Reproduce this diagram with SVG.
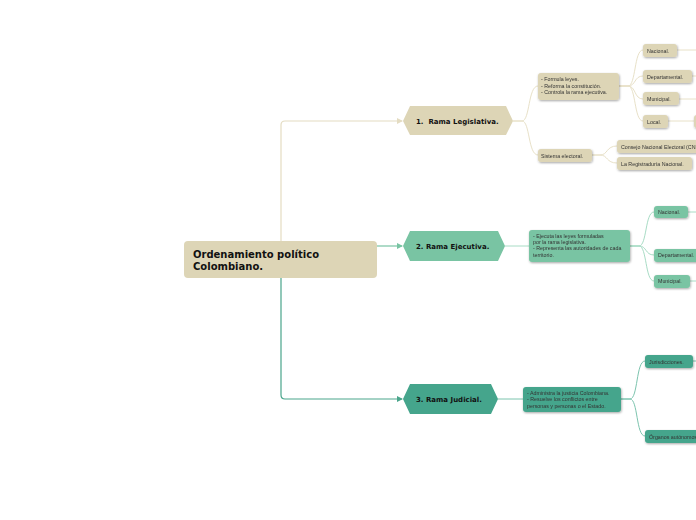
<svg xmlns="http://www.w3.org/2000/svg" width="696" height="520" viewBox="0 0 696 520">
<style>
.t{font-family:"Liberation Sans",Arial,sans-serif;font-size:5.3px;fill:#333}
.b{font-family:"DejaVu Sans",Verdana,sans-serif;font-weight:bold;fill:#111}
.leg{fill:#ddd5b6}
.eje{fill:#79c4a3}
.jud{fill:#45a58c}
.cl{fill:none;stroke:#e8e1c8;stroke-width:1}
.ce{fill:none;stroke:#a8dcc5;stroke-width:1}
.cj{fill:none;stroke:#7cc4ae;stroke-width:1}
</style>
<defs>
<filter id="sh" x="-20%" y="-30%" width="140%" height="180%">
<feDropShadow dx="0.6" dy="1" stdDeviation="0.8" flood-color="#000" flood-opacity="0.35"/>
</filter>
<marker id="aL" viewBox="0 0 6 6" refX="5" refY="3" markerWidth="5" markerHeight="5" orient="auto"><path d="M0,0 L6,3 L0,6 z" fill="#e4dcc2"/></marker>
<marker id="aE" viewBox="0 0 6 6" refX="5" refY="3" markerWidth="5" markerHeight="5" orient="auto"><path d="M0,0 L6,3 L0,6 z" fill="#79c4a3"/></marker>
<marker id="aJ" viewBox="0 0 6 6" refX="5" refY="3" markerWidth="5" markerHeight="5" orient="auto"><path d="M0,0 L6,3 L0,6 z" fill="#4aa58b"/></marker>
</defs>
<rect width="696" height="520" fill="#fff"/>
<g id="connectors">
<path d="M281,241 V125 Q281,121 285,121 H402" fill="none" stroke="#e4dcc2" stroke-width="1.2" marker-end="url(#aL)"/>
<path d="M377,246 H402" fill="none" stroke="#79c4a3" stroke-width="1.2" marker-end="url(#aE)"/>
<path d="M281,278 V395 Q281,399 285,399 H402" fill="none" stroke="#4aa58b" stroke-width="1.2" marker-end="url(#aJ)"/>
<path class="cl" d="M513,121 H522 C530,121 528,86 538,86"/>
<path class="cl" d="M513,121 H522 C530,121 528,155 538,155"/>
<path class="cl" d="M619,86 H628 C636,86 634,50 643,50"/>
<path class="cl" d="M619,86 H628 C636,86 634,76 643,76"/>
<path class="cl" d="M619,86 H628 C636,86 634,99 643,99"/>
<path class="cl" d="M619,86 H628 C636,86 634,121 643,121"/>
<path class="cl" d="M677,50 H696 M692,76 H696 M679,99 H696 M668,121 H694"/>
<path class="cl" d="M592,155 H600 C608,155 606,146 617,146"/>
<path class="cl" d="M592,155 H600 C608,155 606,163 617,163"/>
<path class="ce" d="M505,246 H529"/>
<path class="ce" d="M630,246 H639 C647,246 645,212 654,212"/>
<path class="ce" d="M630,246 H639 C647,246 645,255 654,255"/>
<path class="ce" d="M630,246 H639 C647,246 645,281 654,281"/>
<path class="ce" d="M688,212 H696 M690,281 H696"/>
<path class="cj" d="M498,399 H523"/>
<path class="cj" d="M621,399 H630 C638,399 636,361 645,361"/>
<path class="cj" d="M621,399 H630 C638,399 636,436 645,436"/>
<path class="cj" d="M693,361 H696"/>
</g>
<g id="root">
<rect x="184" y="241" width="193" height="37" rx="4" class="leg"/>
<text class="b" x="193" y="258" font-size="10">Ordenamiento político</text>
<text class="b" x="193" y="270" font-size="10">Colombiano.</text>
</g>
<g id="legislativa">
<polygon class="leg" points="403,121 410,106 506,106 513,121 506,135 410,135"/>
<text class="b" x="416" y="124" font-size="7" xml:space="preserve">1.  Rama Legislativa.</text>
</g>
<g id="leg-funciones" filter="url(#sh)">
<rect x="538" y="73" width="81" height="27" rx="3" class="leg"/>
<text class="t" x="541" y="81">- Formula leyes.</text>
<text class="t" x="541" y="87.5">- Reforma la constitución.</text>
<text class="t" x="541" y="94">- Controla la rama ejecutiva.</text>
</g>
<g id="leg-nacional" filter="url(#sh)"><rect x="643" y="44" width="34" height="13" rx="3" class="leg"/><text class="t" x="647" y="52.5">Nacional.</text></g>
<g id="leg-departamental" filter="url(#sh)"><rect x="643" y="70" width="49" height="13" rx="3" class="leg"/><text class="t" x="647" y="78.5">Departamental.</text></g>
<g id="leg-municipal" filter="url(#sh)"><rect x="643" y="92" width="36" height="13" rx="3" class="leg"/><text class="t" x="647" y="100.5">Municipal.</text></g>
<g id="leg-local" filter="url(#sh)"><rect x="643" y="115" width="25" height="13" rx="3" class="leg"/><text class="t" x="647" y="123.5">Local.</text></g>
<g id="leg-local-child" filter="url(#sh)"><rect x="694" y="115" width="20" height="13" rx="3" class="leg"/></g>
<g id="leg-sistema" filter="url(#sh)"><rect x="538" y="149" width="54" height="13" rx="3" class="leg"/><text class="t" x="541" y="157.5">Sistema electoral.</text></g>
<g id="leg-cne" filter="url(#sh)"><rect x="617" y="140" width="95" height="13" rx="3" class="leg"/><text class="t" x="621" y="148.5">Consejo Nacional Electoral (CNE).</text></g>
<g id="leg-registraduria" filter="url(#sh)"><rect x="617" y="157" width="75" height="13" rx="3" class="leg"/><text class="t" x="621" y="165.5">La Registraduría Nacional.</text></g>
<g id="ejecutiva">
<polygon class="eje" points="403,246 410,231 498,231 505,246 498,261 410,261"/>
<text class="b" x="416" y="249" font-size="7">2. Rama Ejecutiva.</text>
</g>
<g id="eje-funciones" filter="url(#sh)">
<rect x="529" y="230" width="101" height="32" rx="3" class="eje"/>
<text class="t" x="533" y="237.5">- Ejecuta las leyes formuladas</text>
<text class="t" x="533" y="243.5">por la rama legislativa.</text>
<text class="t" x="533" y="250">- Representa las autoridades de cada</text>
<text class="t" x="533" y="256.5">territorio.</text>
</g>
<g id="eje-nacional" filter="url(#sh)"><rect x="654" y="206" width="34" height="12" rx="3" class="eje"/><text class="t" x="658" y="213.8">Nacional.</text></g>
<g id="eje-departamental" filter="url(#sh)"><rect x="654" y="249" width="50" height="13" rx="3" class="eje"/><text class="t" x="658" y="257.3">Departamental.</text></g>
<g id="eje-municipal" filter="url(#sh)"><rect x="654" y="275" width="36" height="13" rx="3" class="eje"/><text class="t" x="658" y="283.3">Municipal.</text></g>
<g id="judicial">
<polygon class="jud" points="403,399 410,384 491,384 498,399 491,414 410,414"/>
<text class="b" x="416" y="402" font-size="7">3. Rama Judicial.</text>
</g>
<g id="jud-funciones" filter="url(#sh)">
<rect x="523" y="387" width="98" height="25" rx="3" class="jud"/>
<text class="t" x="527" y="394.5">- Administra la justicia Colombiana.</text>
<text class="t" x="527" y="401">- Resuelve los conflictos entre</text>
<text class="t" x="527" y="408">personas y personas o el Estado.</text>
</g>
<g id="jud-jurisdicciones" filter="url(#sh)"><rect x="645" y="355" width="48" height="13" rx="3" class="jud"/><text class="t" x="649" y="363.5">Jurisdicciones.</text></g>
<g id="jud-organos" filter="url(#sh)"><rect x="645" y="430" width="62" height="13" rx="3" class="jud"/><text class="t" x="649" y="438.5">Órganos autónomos.</text></g>
</svg>
